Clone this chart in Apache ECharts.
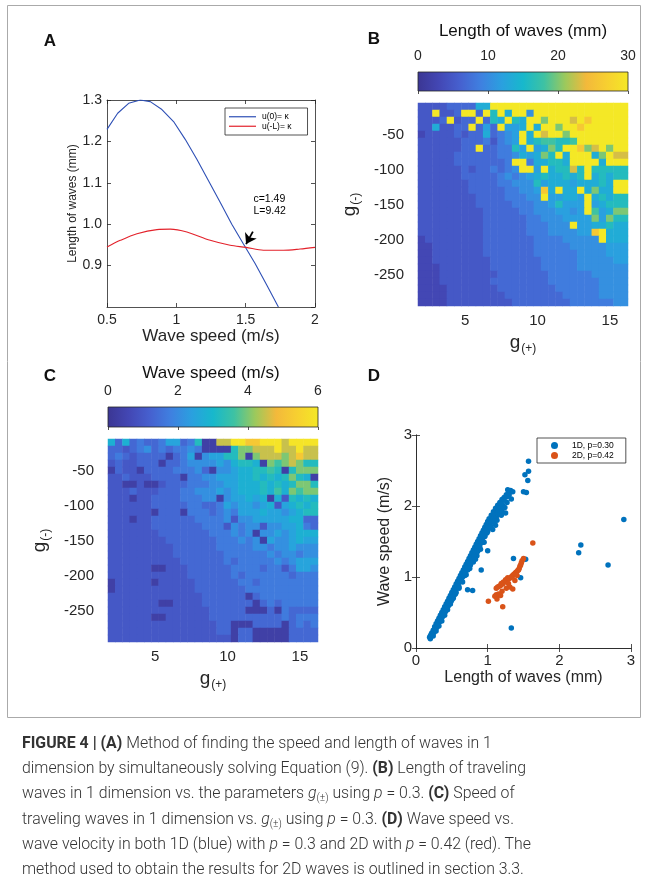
<!DOCTYPE html>
<html>
<head>
<meta charset="utf-8">
<script src="https://cdn.jsdelivr.net/npm/echarts@6/dist/echarts.min.js"></script>
<style>
html, body { margin: 0; padding: 0; background: #fff; }
#wrap { position: relative; width: 654px; height: 881px; overflow: hidden; }
#chart { position: absolute; left: 0; top: 0; width: 654px; height: 881px; }
#cap {
  position: absolute; left: 22px; top: 730px; width: 700px;
  font-family: Roboto, "Noto Sans", sans-serif; font-weight: 300;
  font-size: 17px; line-height: 25.2px; color: #333;
  transform-origin: 0 0; white-space: nowrap;
}
#cap div { height: 25.2px; }
#cap b { font-weight: 700; }
#cap sub { font-size: 11px; line-height: 0; vertical-align: -3px; font-style: normal; }
</style>
</head>
<body>
<div id="wrap">
  <div id="chart"></div>
  <div id="cap">
    <div><span><b>FIGURE 4 | (A)</b> Method of finding the speed and length of waves in 1</span></div>
    <div><span>dimension by simultaneously solving Equation (9). <b>(B)</b> Length of traveling</span></div>
    <div><span>waves in 1 dimension vs. the parameters <i>g</i><sub>(±)</sub> using <i>p</i> = 0.3. <b>(C)</b> Speed of</span></div>
    <div><span>traveling waves in 1 dimension vs. <i>g</i><sub>(±)</sub> using <i>p</i> = 0.3. <b>(D)</b> Wave speed vs.</span></div>
    <div><span>wave velocity in both 1D (blue) with <i>p</i> = 0.3 and 2D with <i>p</i> = 0.42 (red). The</span></div>
    <div><span>method used to obtain the results for 2D waves is outlined in section 3.3.</span></div>
  </div>
</div>
<script>
// ---- panel A : the two curves (wave speed -> length)
const speedBlue = [0.5, 0.577, 0.656, 0.74, 0.812, 0.896, 0.98, 1.064, 1.148, 1.232, 1.316, 1.40, 1.484, 1.568, 1.652, 1.736];
const lenBlue   = [1.229, 1.268, 1.292, 1.30, 1.296, 1.277, 1.248, 1.205, 1.157, 1.105, 1.053, 1.0, 0.952, 0.905, 0.853, 0.80];
const speedRed  = [0.5, 0.596, 0.716, 0.86, 0.956, 1.076, 1.244, 1.388, 1.503, 1.628, 1.772, 1.892, 2.0];
const lenRed    = [0.945, 0.961, 0.977, 0.987, 0.988, 0.981, 0.961, 0.949, 0.944, 0.937, 0.937, 0.940, 0.944];

// ---- panels B and C : g(+) columns, g(-) rows (top row first)
const gPlus  = [2, 2.5, 3, 3.5, 4, 4.5, 5, 5.5, 6, 6.5, 7, 7.5, 8, 8.5, 9, 9.5, 10, 10.5, 11, 11.5, 12, 12.5, 13, 13.5, 14, 14.5, 15, 15.5, 16];
const gMinus = [-10, -20, -30, -40, -50, -60, -70, -80, -90, -100, -110, -120, -130, -140, -150,
                -160, -170, -180, -190, -200, -210, -220, -230, -240, -250, -260, -270, -280, -290];

// one char per cell, looked up in the code tables below
const lengthCode = { '1': 3, '2': 5, '3': 6.8, '4': 8.6, '5': 10.5, '6': 12, '7': 13.5, '8': 16, '9': 18, 'g': 20, 'o': 23, 'r': 26, 'Y': 30 };
const lengthRows = [
  '2222333377YYYYYYYYYYYYYYYYYYY',
  '22Y223YY3Y8Y7YY5YYYYYYYYYYYYY',
  '2223Y233Y387Y87YYgYYYoYrYYYYY',
  '2272233Y363Y667Y7YYgYYrYYYYYY',
  '12222323373456Y7YoYYgYYYYYYYY',
  '22222233342456Y7899889YYYYYYY',
  '22222233Y334486Y67g8YYrgoYgYY',
  '22222333333445767g8Y7YYY7gYoo',
  '2222233333334YY477887YYYY7YYY',
  '22222232334345YY6Y788o8Y88888',
  '22222233333454567877878Y78788',
  '222222233334455586777677787YY',
  '22222223333344556r7Y77Y7g77YY',
  '22222222333344455Y66776Y78788',
  '22222222333334445568666Y67888',
  '22222222233333445556656Y967gg',
  '222222222333333445556666g6g88',
  '222222222333333444555Y6677877',
  '222222222333333444555566rY777',
  '1222222223333333444455555Y777',
  '11222222233333334444455555666',
  '11222222233333334444445555666',
  '11222222223333333444445555566',
  '11122222223333333444445555555',
  '11122222222333333344444455555',
  '11122222223333333344444445555',
  '11112222222333333334444445555',
  '11112222222233333333444445555',
  '11112222222223333333344444455'
];

const speedCode = { '1': 0.35, '2': 1.0, '3': 1.35, '4': 1.7, '5': 2.1, '6': 2.5, '7': 2.8, '8': 3.2, '9': 3.6, 'g': 4.0, 'o': 4.5, 'r': 5.2, 'Y': 5.9 };
const speedRows = [
  '737343346634811ooYYrrYYYoYYYY',
  '332345343445411118ggoooYooYoo',
  '343233331346156688g1gooogoroo',
  '2322333133455556578871g9gog88',
  '13221333344453155677889818ggg',
  '2232223333144556667787878g871',
  '22112112333444556677787878gg8',
  '2223222333445556567778797g9gg',
  '22212233334445515667671728787',
  '22222233333443346566567267878',
  '22222213331444345466676656788',
  '22212233333344445255666667733',
  '22222233333334442545525566743',
  '22222223333333444545155656777',
  '22222222333333344454516556766',
  '22222222233333344444554556555',
  '22222222233333334444445455455',
  '22222222223333334344444545666',
  '22222211222333333444434424665',
  '22222222222333333434444443444',
  '12222212222233333344344444444',
  '12222222222233333334444444444',
  '22222222222223333331344444444',
  '22222221122223333333134344444',
  '22222222222222333331113143333',
  '22222211222222333333333343444',
  '22222222222222233111333313434',
  '22222222222222233133111113333',
  '22222222222222222133111113333'
];

// ---- panel D : [length of waves, wave speed]
const wave1D = [
  [0.20,0.17],[0.22,0.21],[0.24,0.25],[0.26,0.30],[0.28,0.34],[0.30,0.38],[0.32,0.42],[0.34,0.46],[0.36,0.50],[0.38,0.54],
  [0.40,0.58],[0.42,0.62],[0.44,0.66],[0.46,0.70],[0.48,0.74],[0.50,0.78],[0.52,0.82],[0.54,0.86],[0.56,0.90],[0.58,0.94],
  [0.60,0.98],[0.62,1.02],[0.64,1.06],[0.66,1.10],[0.68,1.14],[0.70,1.18],[0.72,1.22],[0.74,1.26],[0.76,1.30],[0.78,1.34],
  [0.80,1.38],[0.82,1.42],[0.84,1.46],[0.86,1.50],[0.88,1.54],[0.90,1.58],[0.92,1.62],[0.94,1.66],[0.96,1.70],[0.98,1.74],
  [1.00,1.78],[1.02,1.82],[1.05,1.87],[1.08,1.92],[1.11,1.97],[1.14,2.01],[1.17,2.05],[1.20,2.09],[1.23,2.12],[1.26,2.16],
  [1.29,2.19],[1.32,2.22],
  [0.21,0.17],[0.23,0.20],[0.25,0.24],[0.27,0.28],[0.29,0.31],[0.31,0.36],[0.33,0.39],[0.35,0.43],[0.37,0.47],[0.39,0.50],
  [0.41,0.54],[0.43,0.58],[0.45,0.62],[0.47,0.65],[0.49,0.70],[0.51,0.73],[0.53,0.77],[0.55,0.81],[0.57,0.85],[0.59,0.88],
  [0.61,0.93],[0.63,0.96],[0.65,1.00],[0.67,1.04],[0.69,1.08],[0.71,1.12],[0.73,1.15],[0.75,1.19],[0.77,1.23],[0.79,1.27],
  [0.81,1.31],[0.83,1.35],[0.85,1.40],[0.87,1.43],[0.89,1.47],[0.91,1.52],[0.93,1.55],[0.95,1.60],[0.97,1.63],[0.99,1.67],
  [1.01,1.72],[1.03,1.76],[1.06,1.80],[1.09,1.85],[1.12,1.90],[1.15,1.93],[1.18,1.97],[1.21,2.01],
  [0.19,0.15],[0.20,0.13],[0.21,0.19],[0.23,0.18],[0.25,0.22],[0.27,0.25],[0.29,0.29],[0.31,0.33],[0.33,0.37],[0.35,0.40],
  [0.37,0.44],[0.39,0.48],[0.41,0.51],[0.43,0.55],[0.45,0.59],[0.47,0.62],[0.49,0.66],[0.51,0.70],[0.53,0.74],[0.55,0.78],
  [0.24,0.17],[0.28,0.24],[0.32,0.31],[0.36,0.38],[0.40,0.46],[0.44,0.54],[0.48,0.62],[0.52,0.70],[0.56,0.78],[0.60,0.86],
  [0.64,0.94],[0.68,1.02],[0.72,1.10],[0.76,1.17],[0.80,1.25],[0.84,1.33],[0.88,1.41],[0.92,1.49],[0.96,1.57],[1.00,1.64],
  [1.04,1.71],[1.08,1.77],[1.12,1.83],[1.16,1.88],[1.20,1.93],[1.24,1.98],
  [0.30,0.32],[0.34,0.40],[0.38,0.47],[0.42,0.56],[0.46,0.64],[0.50,0.71],[0.54,0.79],[0.58,0.87],[0.62,0.95],[0.66,1.03],
  [0.70,1.12],[0.74,1.20],[0.78,1.27],[0.82,1.36],[0.86,1.44],[0.90,1.51],[0.94,1.60],[0.98,1.66],
  [0.50,0.68],[0.55,0.76],[0.60,0.84],[0.65,0.93],[0.70,1.03],[0.75,1.12],[0.80,1.21],[0.85,1.30],[0.90,1.39],[0.95,1.49],
  [0.81,1.28],[0.83,1.25],[0.91,1.10],[0.72,0.82],[0.79,0.81],[1.00,1.37],[0.93,1.49],[1.07,1.67],[1.13,1.80],[1.05,1.77],
  [1.11,1.73],[1.19,1.87],[1.25,1.90],[1.14,1.90],[1.22,1.98],[1.27,2.05],[1.33,2.10],[1.31,2.21],[1.35,2.20],[1.27,2.13],
  [1.23,2.08],[1.19,2.03],[0.86,1.36],[0.89,1.44],[0.96,1.58],[0.99,1.62],[1.03,1.70],[1.09,1.78],[0.76,1.19],[0.68,1.05],
  [1.57,2.63],[1.52,2.44],[1.57,2.49],[1.56,2.36],[1.50,2.20],[1.54,2.19],[2.90,1.81],[2.30,1.45],[2.27,1.34],[2.68,1.17],
  [1.33,0.28],[1.36,1.26],[1.53,1.25],[1.46,0.99],[1.30,2.16],[1.28,2.23]
];
const wave2D = [
  [1.63,1.48],[1.50,1.26],[1.48,1.23],[1.47,1.20],[1.46,1.17],[1.45,1.15],[1.44,1.12],[1.43,1.10],[1.42,1.09],[1.40,1.07],
  [1.39,1.06],[1.38,1.05],[1.37,1.04],[1.36,1.03],[1.35,1.02],[1.34,1.01],[1.33,1.00],[1.32,0.99],[1.30,0.98],[1.28,0.99],
  [1.27,0.97],[1.25,0.96],[1.24,0.93],[1.22,0.93],[1.21,0.90],[1.19,0.91],[1.18,0.88],[1.16,0.87],[1.14,0.86],[1.12,0.84],
  [1.29,0.91],[1.31,0.86],[1.35,0.83],[1.26,0.84],[1.20,0.80],[1.15,0.76],[1.18,0.74],[1.12,0.75],[1.10,0.73],[1.01,0.66],
  [1.21,0.58],[1.13,0.69],[1.38,0.95],[1.41,1.02]
];

// colour map (parula-like), low -> high
const parula = ['#3b3693', '#4347b4', '#4660cf', '#3f80e0', '#2aa0df', '#17b8cc', '#3ec2a3', '#9cc95c', '#f3b93b', '#f7d030', '#f4e826'];

const FONT = '"Liberation Sans", Arial, Helvetica, sans-serif';
const INK = '#262626';

function cells(rows, code) {
  const out = [];
  rows.forEach((row, r) => {
    for (let c = 0; c < gPlus.length; c++) {
      const ch = row[Math.min(c, row.length - 1)];
      out.push([c, gMinus.length - 1 - r, code[ch]]);
    }
  });
  return out;
}
const zip = (xs, ys) => xs.map((x, i) => [x, ys[i]]);
const lab = (size, more) => Object.assign({ fontSize: size, color: INK, fontFamily: FONT }, more || {});

const boxLine = { show: true, lineStyle: { color: INK, width: 0.8 } };
const inTick = { show: true, inside: true, length: 4, lineStyle: { color: INK, width: 0.8 } };
const noSplit = { show: false };

const gridA = { left: 107, top: 100, width: 208, height: 207 };
const barB = { left: 418, top: 72, width: 210, height: 19 };
const heatB = { left: 418, top: 103, width: 210, height: 203 };
const barC = { left: 108, top: 407, width: 210, height: 20 };
const heatC = { left: 108, top: 439, width: 210, height: 203 };
const gridD = { left: 416, top: 435, width: 215, height: 213 };

const gRich = { s: { fontSize: 12, color: INK, fontFamily: FONT, padding: [12, 0, 0, 1] } };
function heatX(grid) {
  return {
    gridIndex: grid, type: 'category', data: gPlus.map(String),
    axisLine: { show: false }, axisTick: { show: false }, splitLine: noSplit,
    axisLabel: lab(15, { interval: (i, v) => Number(v) % 5 === 0, margin: 7 }),
    name: 'g{s|(+)}', nameLocation: 'middle', nameGap: 25,
    nameTextStyle: lab(19, { rich: gRich })
  };
}
function heatY(grid) {
  return {
    gridIndex: grid, type: 'category', data: gMinus.slice().reverse().map(String),
    axisLine: { show: false }, axisTick: { show: false }, splitLine: noSplit,
    axisLabel: lab(15, { interval: (i, v) => Number(v) % 50 === 0, margin: 14 }),
    name: 'g{s|(-)}', nameLocation: 'middle', nameGap: 56,
    nameTextStyle: lab(19, { rich: gRich })
  };
}
function barX(grid, max, step) {
  return {
    gridIndex: grid, type: 'value', min: 0, max: max, interval: step, position: 'top',
    axisLine: { show: false }, splitLine: noSplit,
    axisTick: { show: true, inside: true, length: 3, lineStyle: { color: INK, width: 0.8 } },
    axisLabel: lab(14, { margin: 9 })
  };
}
function gradientRect(g) {
  return {
    type: 'rect', z: 5,
    shape: { x: g.left, y: g.top, width: g.width, height: g.height },
    style: {
      fill: { type: 'linear', x: 0, y: 0, x2: 1, y2: 0,
        colorStops: parula.map((c, i) => ({ offset: i / (parula.length - 1), color: c })) },
      stroke: INK, lineWidth: 0.8
    }
  };
}
function txt(x, y, text, size, weight) {
  return { type: 'text', x: x, y: y, z: 10,
    style: { text: text, fontSize: size, fontWeight: weight || 'normal', fontFamily: FONT, fill: '#111',
      align: 'center', verticalAlign: 'middle', textAlign: 'center', textVerticalAlign: 'middle' } };
}

const chart = echarts.init(document.getElementById('chart'), null, { renderer: 'canvas' });
chart.setOption({
  animation: false,
  backgroundColor: '#fff',
  textStyle: { fontFamily: FONT },
  grid: [gridA, barB, heatB, barC, heatC, gridD].map(g => Object.assign({ containLabel: false }, g)),
  xAxis: [
    { gridIndex: 0, type: 'value', min: 0.5, max: 2, interval: 0.5, axisLine: boxLine, axisTick: inTick, splitLine: noSplit,
      axisLabel: lab(14, { margin: 6 }),
      name: 'Wave speed (m/s)', nameLocation: 'middle', nameGap: 19, nameTextStyle: lab(17, { verticalAlign: 'top' }) },
    { gridIndex: 0, type: 'value', position: 'top', min: 0.5, max: 2, interval: 0.5, axisLine: boxLine, axisTick: inTick,
      splitLine: noSplit, axisLabel: { show: false } },
    barX(1, 30, 10),
    heatX(2),
    barX(3, 6, 2),
    heatX(4),
    { gridIndex: 5, type: 'value', min: 0, max: 3, interval: 1, axisLine: boxLine, axisTick: inTick, splitLine: noSplit,
      axisLabel: lab(15, { margin: 5 }),
      name: 'Length of waves (mm)', nameLocation: 'middle', nameGap: 22, nameTextStyle: lab(16, { verticalAlign: 'top' }) },
    { gridIndex: 5, type: 'value', position: 'top', min: 0, max: 3, interval: 1, axisLine: boxLine, axisTick: inTick,
      splitLine: noSplit, axisLabel: { show: false } }
  ],
  yAxis: [
    { gridIndex: 0, type: 'value', min: 0.8, max: 1.3, interval: 0.1, axisLine: boxLine, axisTick: inTick, splitLine: noSplit,
      axisLabel: lab(14, { margin: 5, showMinLabel: false, formatter: v => v.toFixed(1) }),
      name: 'Length of waves (mm)', nameLocation: 'middle', nameGap: 27, nameTextStyle: lab(12, { verticalAlign: 'bottom' }) },
    { gridIndex: 0, type: 'value', position: 'right', min: 0.8, max: 1.3, interval: 0.1, axisLine: boxLine, axisTick: inTick,
      splitLine: noSplit, axisLabel: { show: false } },
    { gridIndex: 1, type: 'value', show: false },
    heatY(2),
    { gridIndex: 3, type: 'value', show: false },
    heatY(4),
    { gridIndex: 5, type: 'value', min: 0, max: 3, interval: 1, axisLine: boxLine, axisTick: inTick, splitLine: noSplit,
      axisLabel: lab(15, { margin: 4 }),
      name: 'Wave speed (m/s)', nameLocation: 'middle', nameGap: 23, nameTextStyle: lab(16, { verticalAlign: 'bottom' }) },
    { gridIndex: 5, type: 'value', position: 'right', min: 0, max: 3, interval: 1, axisLine: boxLine, axisTick: inTick,
      splitLine: noSplit, axisLabel: { show: false } }
  ],
  visualMap: [
    { type: 'continuous', show: false, seriesIndex: 2, min: 0, max: 30, inRange: { color: parula } },
    { type: 'continuous', show: false, seriesIndex: 3, min: 0, max: 6, inRange: { color: parula } }
  ],
  legend: [
    { data: ['u(0)= κ', 'u(-L)= κ'], orient: 'vertical', left: 225, top: 108, padding: [4, 16, 4, 4], itemGap: 0,
      icon: 'rect', itemWidth: 27, itemHeight: 1.2, borderColor: INK, borderWidth: 0.8, backgroundColor: '#fff',
      textStyle: { fontSize: 8.5, lineHeight: 9.5, color: '#000', fontFamily: FONT, padding: [0, 0, 0, 1] } },
    { data: ['1D, p=0.30', '2D, p=0.42'], orient: 'vertical', left: 537, top: 438, padding: [3, 12, 3, 14], itemGap: 1,
      itemWidth: 7, itemHeight: 7, icon: 'circle', borderColor: INK, borderWidth: 0.8, backgroundColor: '#fff',
      textStyle: { fontSize: 8.5, color: '#000', fontFamily: FONT, padding: [0, 0, 0, 9] } }
  ],
  series: [
    { name: 'u(0)= κ', type: 'line', xAxisIndex: 0, yAxisIndex: 0, data: zip(speedBlue, lenBlue), symbol: 'none',
      color: '#2d4fb5', lineStyle: { color: '#2d4fb5', width: 1.1 },
      markLine: { silent: true, symbol: ['none', 'arrow'], symbolSize: 10, animation: false,
        lineStyle: { color: '#000', width: 1.8, type: 'solid' }, label: { show: false },
        data: [[{ coord: [1.552, 0.982] }, { coord: [1.503, 0.952] }]] },
      markPoint: { silent: true, symbol: 'circle', symbolSize: 0,
        label: { show: true, position: 'inside', align: 'left', formatter: 'c=1.49\nL=9.42', fontSize: 10.5, lineHeight: 11.5,
          color: '#000', fontFamily: FONT },
        data: [{ coord: [1.556, 1.046] }] } },
    { name: 'u(-L)= κ', type: 'line', xAxisIndex: 0, yAxisIndex: 0, data: zip(speedRed, lenRed), symbol: 'none', smooth: 0.3,
      color: '#e3222b', lineStyle: { color: '#e3222b', width: 1.1 } },
    { name: 'length', type: 'heatmap', xAxisIndex: 3, yAxisIndex: 3, data: cells(lengthRows, lengthCode), emphasis: { disabled: true } },
    { name: 'speed', type: 'heatmap', xAxisIndex: 5, yAxisIndex: 5, data: cells(speedRows, speedCode), emphasis: { disabled: true } },
    { name: '1D, p=0.30', type: 'scatter', xAxisIndex: 6, yAxisIndex: 6, data: wave1D, symbolSize: 5.5, color: '#0072bd',
      itemStyle: { color: '#0072bd', opacity: 1 } },
    { name: '2D, p=0.42', type: 'scatter', xAxisIndex: 6, yAxisIndex: 6, data: wave2D, symbolSize: 5.5, color: '#d95319',
      itemStyle: { color: '#d95319', opacity: 1 } }
  ],
  graphic: [
    { type: 'rect', z: 0, shape: { x: 7.5, y: 5.5, width: 633, height: 712 }, style: { fill: 'none', stroke: '#aaa', lineWidth: 1 } },
    gradientRect(barB),
    gradientRect(barC),
    txt(50, 41, 'A', 17, 'bold'),
    txt(374, 39, 'B', 17, 'bold'),
    txt(50, 376, 'C', 17, 'bold'),
    txt(374, 376, 'D', 17, 'bold'),
    txt(523, 31, 'Length of waves (mm)', 17),
    txt(211, 373, 'Wave speed (m/s)', 17)
  ]
});

// squeeze the caption to the printed line width
const capLines = document.querySelectorAll('#cap span');
const widest = Math.max(...Array.from(capLines).map(s => s.getBoundingClientRect().width));
document.getElementById('cap').style.transform = 'scaleX(' + (509 / widest) + ')';
</script>
</body>
</html>
